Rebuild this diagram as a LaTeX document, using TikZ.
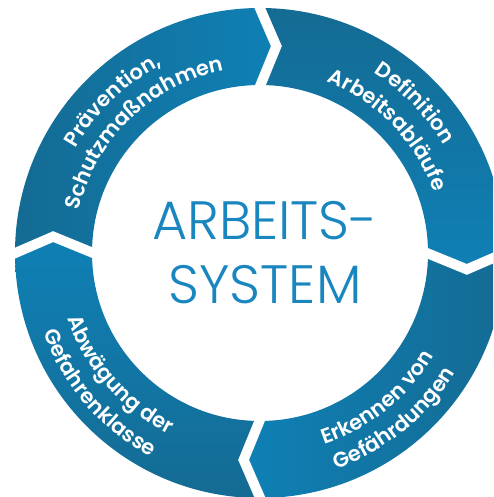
\documentclass[tikz,border=0pt]{standalone}
\usepackage{fontspec}
\usetikzlibrary{decorations.text}
\newfontfamily\segfontfamily{Poppins SemiBold}
\newfontfamily\centerfontfamily{Poppins Light}
\newcommand\segfont{\segfontfamily\fontsize{21}{21}\selectfont}
\definecolor{segdark}{HTML}{146B93}
\definecolor{seglight}{HTML}{0F80B5}
\definecolor{centerblue}{HTML}{1A86BF}
\tikzset{
  ringtext/.style={decorate, decoration={text along path, text align=center, text color=white, text={#1}}},
  gapline/.style={draw=white, line width=10pt, line join=miter, line cap=butt},
}
\begin{document}
\begin{tikzpicture}[x=1pt,y=1pt]
\clip (-260,-244) rectangle (233,253);
\useasboundingbox (-260,-244) rectangle (233,253);
\fill[white] (-260,-244) rectangle (233,253);
\def\Ro{245pt}\def\Ri{168pt}
% Praevention: 181 -> 91
\path[left color=segdark, right color=seglight]
  (181:\Ro) arc[start angle=181, end angle=91, radius=\Ro] -- (85.47:207.5pt) -- (91:\Ri)
  arc[start angle=91, end angle=181, radius=\Ri] -- (175.47:207.5pt) -- cycle;
% Definition: 91 -> 1
\path[top color=segdark, bottom color=seglight]
  (91:\Ro) arc[start angle=91, end angle=1, radius=\Ro] -- (-4.53:207.5pt) -- (1:\Ri)
  arc[start angle=1, end angle=91, radius=\Ri] -- (85.47:207.5pt) -- cycle;
% Erkennen: 1 -> -89
\path[right color=segdark, left color=seglight]
  (1:\Ro) arc[start angle=1, end angle=-89, radius=\Ro] -- (-94.53:207.5pt) -- (-89:\Ri)
  arc[start angle=-89, end angle=1, radius=\Ri] -- (-4.53:207.5pt) -- cycle;
% Abwaegung: 271 -> 181
\path[bottom color=segdark, top color=seglight]
  (271:\Ro) arc[start angle=271, end angle=181, radius=\Ro] -- (175.47:207.5pt) -- (181:\Ri)
  arc[start angle=181, end angle=271, radius=\Ri] -- (265.47:207.5pt) -- cycle;
% white gaps
\foreach \g in {91,1,-89,181}{
  \draw[gapline] (\g:160pt) -- ({\g-5.53}:207.5pt) -- (\g:255pt);
}
% labels
\path[ringtext={|\segfont|Prävention,}] (175:212pt) arc[start angle=175, end angle=93, radius=212pt];
\path[ringtext={|\segfont|Schutzmaßnahmen}] (175:186pt) arc[start angle=175, end angle=93, radius=186pt];
\path[ringtext={|\segfont|Definition}] (85:213pt) arc[start angle=85, end angle=3, radius=213pt];
\path[ringtext={|\segfont|Arbeitsabläufe}] (85:184pt) arc[start angle=85, end angle=3, radius=184pt];
\path[ringtext={|\segfont|Erkennen von}] (268:202pt) arc[start angle=268, end angle=350, radius=202pt];
\path[ringtext={|\segfont|Gefährdungen}] (268:229pt) arc[start angle=268, end angle=350, radius=229pt];
\path[ringtext={|\segfont|Abwägung der}] (180:203pt) arc[start angle=180, end angle=262, radius=203pt];
\path[ringtext={|\segfont|Gefahrenklasse}] (180:231pt) arc[start angle=180, end angle=262, radius=231pt];
% centre
\node[font=\centerfontfamily\fontsize{54}{64}\selectfont, text=centerblue, align=center] (title) at (5,0) {ARBEITS-\\SYSTEM};
\end{tikzpicture}
\end{document}
